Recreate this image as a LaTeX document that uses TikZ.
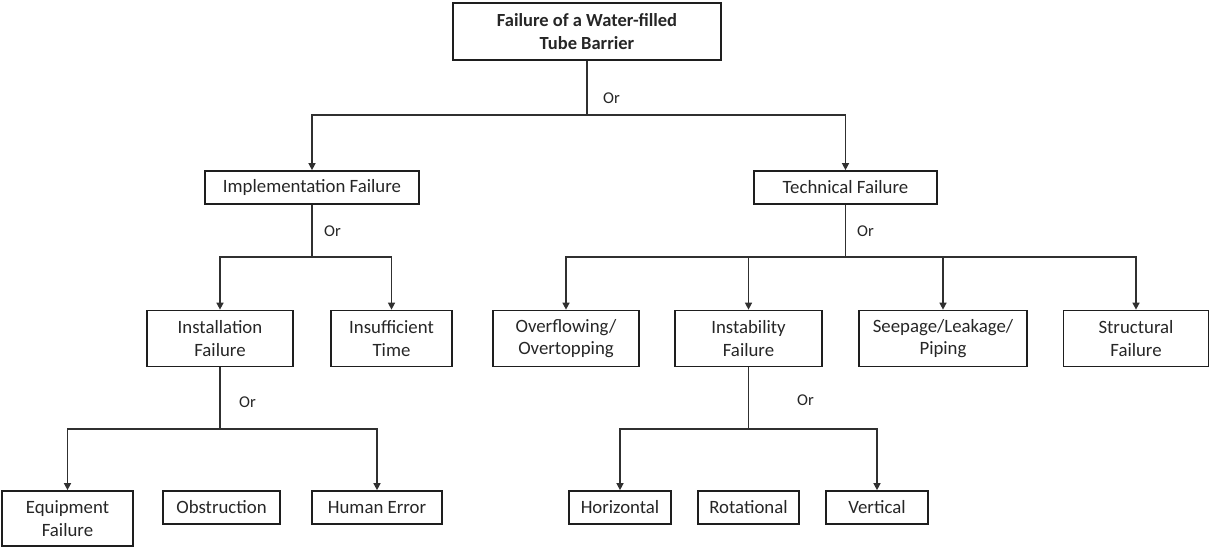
\documentclass[tikz,border=0pt]{standalone}
\usepackage{fontspec}
\setmainfont{Carlito}
\usetikzlibrary{arrows.meta}
\definecolor{boxline}{HTML}{1E1E1E}
\definecolor{conline}{HTML}{303030}
\definecolor{txt}{HTML}{262626}
\tikzset{
  fbox/.style={draw=boxline, line width=1.7pt, rectangle, inner sep=0pt, align=center,
    text=txt, font=\fontsize{18.8}{22.5}\selectfont},
  one/.style={fbox, minimum height=33pt},
  two/.style={fbox, minimum height=56pt},
  conn/.style={draw=conline, line width=1.4pt},
  arr/.style={conn, -{Triangle[length=7pt,width=7pt]}},
  orlab/.style={anchor=west, inner sep=0pt, text=txt, font=\fontsize{16.5}{19}\selectfont},
}
\begin{document}
\begin{tikzpicture}[x=1pt,y=-1pt]
\useasboundingbox (0,0) rectangle (1210,547);
% level 0
\node[fbox, minimum width=268pt, minimum height=57pt, font=\fontsize{18.5}{22.5}\selectfont\bfseries] (top) at (587,31.5) {Failure of a Water-filled\\Tube Barrier};
% level 1
\node[one, minimum width=214pt] (impl) at (312,187.5) {Implementation Failure};
\node[one, minimum width=183pt] (tech) at (845.5,187.5) {Technical Failure};
% level 2
\node[two, minimum width=146pt] (inst) at (220,338.5) {Installation\\Failure};
\node[two, minimum width=121pt] (insuf) at (391.5,338.5) {Insufficient\\Time};
\node[two, minimum width=146pt] (over) at (566,338.5) {Overflowing/\\Overtopping};
\node[two, minimum width=147pt] (instab) at (748.5,338.5) {Instability\\Failure};
\node[two, minimum width=168pt] (seep) at (943,338.5) {Seepage/Leakage/\\Piping};
\node[two, minimum width=145pt] (struct) at (1136,338.5) {Structural\\Failure};
% level 3
\node[two, minimum width=131pt, minimum height=55pt] (equip) at (67.5,518.5) {Equipment\\Failure};
\node[one, minimum width=117pt] (obst) at (221.5,507.5) {Obstruction};
\node[one, minimum width=130pt] (human) at (377,507.5) {Human Error};
\node[one, minimum width=102pt] (horiz) at (620,507.5) {Horizontal};
\node[one, minimum width=101pt] (rot) at (748.5,507.5) {Rotational};
\node[one, minimum width=102pt] (vert) at (877,507.5) {Vertical};
% junctions
\coordinate (j0) at (587,115);
\coordinate (j1) at (312,257);
\coordinate (j2) at (845.5,257);
\coordinate (j3) at (220,429);
\coordinate (j4) at (748.5,429);
% connectors
\draw[conn] (top.south) -- (j0);
\draw[arr] (j0) -| (impl.north);
\draw[arr] (j0) -| (tech.north);
\draw[conn] (impl.south) -- (j1);
\draw[arr] (j1) -| (inst.north);
\draw[arr] (j1) -| (insuf.north);
\draw[conn] (tech.south) -- (j2);
\draw[arr] (j2) -| (over.north);
\draw[arr] (j2) -| (instab.north);
\draw[arr] (j2) -| (seep.north);
\draw[arr] (j2) -| (struct.north);
\draw[conn] (inst.south) -- (j3);
\draw[arr] (j3) -| (equip.north);
\draw[arr] (j3) -| (human.north);
\draw[conn] (instab.south) -- (j4);
\draw[arr] (j4) -| (horiz.north);
\draw[arr] (j4) -| (vert.north);
% Or labels
\node[orlab] (or0) at (603,98) {Or};
\node[orlab] (or1) at (324,231) {Or};
\node[orlab] (or2) at (857,231) {Or};
\node[orlab] (or3) at (239,402) {Or};
\node[orlab] (or4) at (797,400) {Or};
\end{tikzpicture}
\end{document}
